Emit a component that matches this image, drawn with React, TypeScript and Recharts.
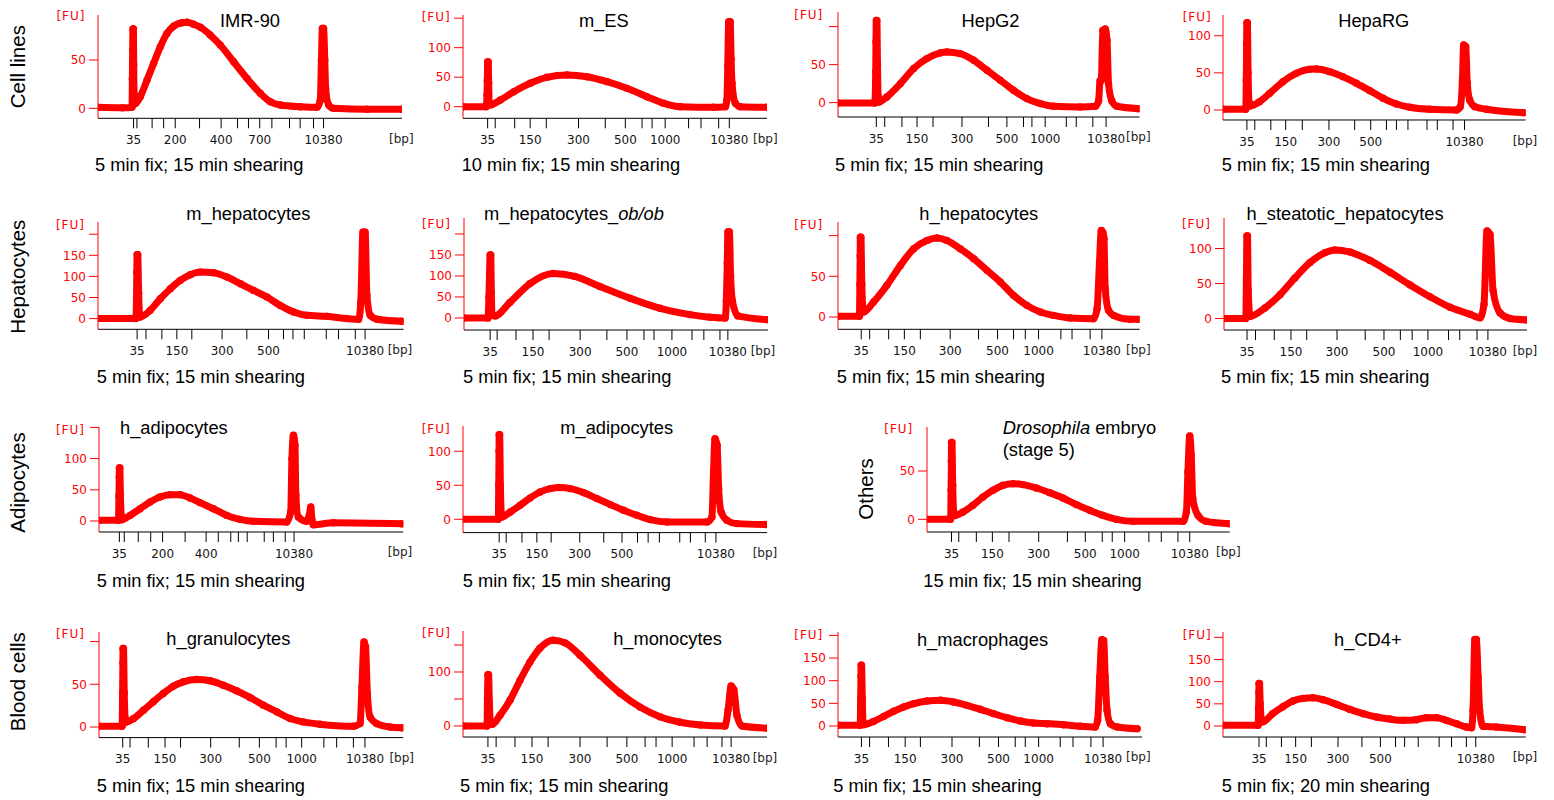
import React from 'react';
import { LineChart, Line, XAxis, YAxis } from 'recharts';

type Pt = [number, number];

// ---- traces: x = migration position (% of run window), y = fluorescence [FU]
const imr90Trace: Pt[] = [[0,1],[8,0.5],[11.2,1],[11.3,30],[11.4,60],[11.5,82],[11.65,82],[11.75,45],[11.85,15],[12.3,5],[13.9,12],[16.1,29],[18.3,46.5],[20.5,63.7],[22.7,77.5],[24.9,85],[27.6,88.5],[29.3,89],[31.4,87],[33.7,83.8],[36.9,75.8],[40.2,65.5],[44.6,48.2],[49.0,31],[53.4,15.5],[56.7,6.8],[60,3.4],[66.5,1.7],[72,1],[73.1,8],[73.5,50],[73.8,82.7],[74.2,82.7],[74.6,50],[74.9,20],[75.9,3.4],[77.5,0],[88.5,-1],[100,-1]];
const mEsTrace: Pt[] = [[0,0],[7.6,0],[7.9,20],[8.0,45],[8.1,76],[8.3,76],[8.45,40],[8.6,8],[9.0,3],[12.3,11.3],[16.7,25.4],[22.1,39.6],[27.6,49.8],[34.2,53.7],[40.8,50.8],[47.4,42.4],[53.9,31.1],[60.5,17],[66,5.7],[71.5,0],[82.4,-1],[86.3,0],[86.8,11],[87.1,70],[87.4,144],[87.9,144],[88.2,80],[88.5,39.6],[89.6,5.7],[91.2,0],[100,-1]];
const hepg2Trace: Pt[] = [[0,-0.4],[12.2,-0.5],[12.5,40],[12.6,80],[12.7,108],[12.9,108],[13.1,50],[13.3,8],[13.5,0.9],[16.2,7.5],[20.7,25],[25.1,44.8],[29.5,57.9],[33.9,65.4],[36.1,66.7],[40.5,64.5],[45.0,55.7],[49.4,42.5],[53.8,29.4],[58.2,16.2],[62.6,5.3],[67.1,-1.3],[71.5,-4.8],[80.3,-5.7],[85.3,-4.8],[86.4,2.2],[86.9,29],[87.3,29],[87.8,95],[88.6,97],[89.2,82],[89.7,25],[90.8,2.2],[92.5,-4.8],[99.6,-7.9]];
const hepaRgTrace: Pt[] = [[0,0.9],[7.5,0.9],[7.7,40],[7.8,90],[7.9,117.5],[8.05,117.5],[8.3,50],[8.6,10],[8.8,5.4],[12.1,11.2],[15.4,22.4],[19.8,38.1],[24.2,49.3],[28.6,54.7],[30.9,55.1],[35.2,51.6],[39.6,44.9],[44.1,35.9],[48.5,26],[52.9,15.7],[57.3,8.1],[61.7,3.6],[68.3,0.9],[77.1,0],[78.4,4.5],[79.1,40.4],[79.5,87.5],[80.2,85.2],[80.7,35.9],[81.5,13.5],[83.2,4.5],[87,0.9],[99.4,-3.6]];
const mHepTrace: Pt[] = [[0,0],[12.4,0],[12.6,50],[12.7,110],[12.8,151.7],[13.0,151.7],[13.3,60],[13.6,10],[13.8,3.9],[17.1,19.6],[20.4,47.2],[23.7,70.8],[26.9,90.5],[30.2,103.9],[33.5,110.2],[37.8,108.6],[42.2,98.4],[46.6,82.6],[50.9,66.8],[55.3,51],[59.6,31.3],[64,15.6],[68.4,7.7],[74.9,5.3],[81.5,0],[85.3,-1.6],[86.0,39.4],[86.7,205],[87.4,205],[88.0,55],[89.1,7.7],[91.3,-1.6],[99.4,-6.3]];
const mHepObTrace: Pt[] = [[0,0],[7.9,0],[8.2,50],[8.4,105],[8.6,150],[8.8,150],[9.0,60],[9.2,8],[10.2,5],[15.1,37],[21.7,82],[29.3,106],[36.5,99],[44.7,75],[54.6,47],[64.5,23],[74.3,8],[80.9,2],[85.9,0],[86.3,40],[86.6,130],[86.8,205],[87.3,205],[87.7,100],[88.3,40],[90.1,5],[100,-4]];
const hHepTrace: Pt[] = [[0,0.8],[7.1,0.8],[7.25,40],[7.35,75],[7.4,98],[7.6,98],[7.9,40],[8.2,12],[8.5,6.2],[11.8,18.4],[16.2,38.9],[20.7,63.4],[25.1,83.9],[29.5,94.1],[32.8,97],[36.1,94.1],[40.5,83.9],[45,71.6],[49.4,57.3],[53.8,43],[58.2,26.6],[62.6,14.3],[67.1,6.2],[71.5,2],[77,-1.2],[84.7,-2],[85.9,10.2],[86.7,67.5],[87.3,106.4],[87.8,104],[88.2,96.2],[88.6,34.8],[89.7,8.2],[91.4,2],[96.9,-2.9],[99.6,-2.9]];
const hSteatTrace: Pt[] = [[0,0],[7.2,0],[7.4,55],[7.55,118],[7.75,118],[8.0,40],[8.6,3],[13.5,15],[18.5,34],[23.4,58],[28.4,80],[33.3,94],[36.6,98],[41.6,95],[48.2,83],[54.8,66],[61.4,48],[68.0,31],[74.6,16],[81.2,6],[84.5,1],[85.8,20],[86.8,125],[87.8,120],[88.8,40],[91.1,8],[94.4,0],[100,-2]];
const hAdipoTrace: Pt[] = [[0,1.1],[6.4,1.1],[6.55,40],[6.65,70],[6.7,85],[6.85,85],[7.05,40],[7.3,8],[7.5,2.1],[10.2,9],[13.5,19.7],[16.8,30.4],[20,38.5],[23.3,42.2],[26.6,42.2],[29.9,36.9],[33.2,29.4],[37.6,19.7],[42,9],[46.3,2.7],[50.7,-0.5],[61.7,-1.6],[63,14.4],[63.4,99.9],[63.9,137.3],[64.4,121.3],[64.7,41.1],[65.5,6.4],[68.2,-0.5],[69.1,9],[69.6,22.4],[70,1.1],[70.4,-5.9],[77,-2.7],[99.5,-4.3]];
const mAdipoTrace: Pt[] = [[0,0],[11.6,0],[11.75,50],[11.85,100],[11.9,124.5],[12.05,124.5],[12.3,50],[12.6,8],[12.8,3.4],[15.6,10.8],[18.8,20.6],[22.1,31.4],[25.4,40.2],[28.7,45.1],[32,46.6],[35.3,45.1],[39.7,39.2],[44.1,30.4],[48.5,21.6],[52.8,13.2],[57.2,5.9],[61.6,-0.5],[67.1,-3.9],[80.3,-3.9],[81.9,3.4],[82.4,69.6],[82.9,118.6],[83.6,108.8],[84.1,45.1],[84.9,10.8],[86.8,-1.5],[90.1,-6.4],[99.4,-7.8]];
const drosTrace: Pt[] = [[0,0],[7.8,0],[7.95,30],[8.05,60],[8.1,79.4],[8.25,79.4],[8.5,35],[8.9,6],[9.2,4],[11.9,7.6],[15.2,14.5],[18.5,23.1],[21.8,30],[25.1,35.2],[28.4,36.9],[31.7,35.9],[36.1,32.4],[40.5,27.6],[44.9,22.1],[49.4,15.2],[53.8,9.3],[58.1,4.1],[62.6,0],[68.1,-2.1],[84.6,-2.1],[85.7,7.6],[86.2,49],[86.8,86.3],[87.3,66.3],[87.8,21.4],[89.5,4.1],[92.2,-2.1],[100,-4.5]];
const hGranTrace: Pt[] = [[0,0.8],[7.6,0.8],[7.75,40],[7.85,75],[7.9,91.8],[8.05,91.8],[8.3,40],[8.6,10],[8.9,5.9],[11.3,9.8],[14.6,19.6],[17.8,29.4],[21.1,39.2],[24.4,47.8],[27.7,52.9],[32.1,55.6],[36.5,54.1],[40.8,49],[45.2,42.4],[49.6,34.6],[54,25.6],[58.4,17.8],[62.8,9.9],[67.1,6],[72.6,3.3],[83.6,0.9],[85.8,4],[86.4,47],[87.1,99.6],[87.6,93.7],[88.2,39.1],[89.1,11.7],[91.3,3.9],[95.6,0],[99.5,-0.8]];
const hMonoTrace: Pt[] = [[0,0],[7.9,0],[8.05,50],[8.2,95],[8.4,95],[8.7,40],[9.0,5],[9.6,3],[12.2,20],[15.5,48],[18.8,85],[22.0,118],[25.3,144],[29.6,159],[33.6,154],[38.5,131],[45.1,94],[51.6,61],[58.2,35],[64.8,17],[71.4,7],[78.0,2],[86.2,0],[87.2,30],[88.2,74],[89.1,67],[90.1,20],[91.8,0],[100,-4]];
const hMacroTrace: Pt[] = [[0,1.5],[7.3,1.5],[7.45,60],[7.55,110],[7.6,134],[7.75,134],[8.0,60],[8.2,10],[8.4,3],[11.7,10],[15,21],[18.3,32.4],[21.6,41.9],[24.9,49.3],[29.3,55.2],[33.7,56.7],[38,53],[42.4,45.6],[46.8,36.8],[51.2,27.2],[55.6,18.3],[60,11],[64.3,6.6],[68.8,5.1],[74.2,2.9],[79.7,-0.7],[84.6,-2.2],[85.4,12.5],[86.1,108.2],[86.8,190.6],[87.4,189],[87.9,108],[88.5,34.4],[89.6,5.1],[91.8,-2.2],[98.4,-5.9]];
const hCd4Trace: Pt[] = [[0,1.5],[11.6,1.5],[11.75,40],[11.85,75],[11.9,95.7],[12.05,95.7],[12.3,50],[12.7,15],[13.2,9.4],[16.5,28.5],[19.8,43.5],[23.1,56.4],[26.4,62.3],[29.7,63.8],[33,59.3],[37.5,48.8],[41.9,37.5],[46.3,27.7],[50.7,20.2],[55.1,15.7],[59.5,12.7],[63.9,14.2],[67.2,18.7],[70.5,18.7],[73.8,12.7],[77.1,5.3],[80.4,-2.3],[82.1,-3.8],[82.6,35.3],[83.2,195],[83.7,195],[84.3,110.5],[84.8,35.3],[85.9,-0.8],[90.3,-2.3],[99.7,-8.3]];

// ---- size-ladder tick positions (% of run window) for each panel
const imr90Ticks = [11.7,12.8,17.8,21.6,25.4,33.4,40.5,45.9,49.5,53.2,57.2,63.0,66.5,70.9,74.2];
const mEsTicks = [8.1,10.6,17.0,22.1,27.4,38.0,46.8,53.4,58.9,62.2,66.5,74.2,78.3,84.1,87.6];
const hepg2Ticks = [12.7,15.5,21.2,26.2,31.5,41.1,49.9,56.0,61.5,64.3,68.7,75.7,79.0,84.5,88.9];
const hepaRgTicks = [7.9,10.5,15.8,20.7,26.2,35.0,43.5,48.8,54.0,57.3,61.1,67.4,70.8,76.0,79.8];
const mHepTicks = [12.8,15.7,20.9,25.8,30.7,40.6,48.7,55.8,60.7,63.8,67.5,74.7,78.7,84.2,87.4];
const mHepObTicks = [8.6,10.9,17.1,22.7,28.0,38.2,47.0,53.6,59.2,62.5,68.4,75.0,78.9,84.2,86.8];
const hHepTicks = [7.7,10.5,16.8,22.0,27.3,37.2,46.6,52.9,58.2,62.1,66.5,73.9,77.6,83.6,87.5];
const hSteatTicks = [7.6,10.4,16.6,22.1,27.3,37.3,46.6,52.8,58.2,62.1,67.3,74.1,77.8,83.5,87.1];
const hAdipoTicks = [6.7,8.3,12.9,17.0,20.9,28.3,35.2,39.2,43.3,45.8,48.7,54.3,57.3,61.2,64.1];
const mAdipoTicks = [11.9,14.2,19.4,24.3,29.0,38.4,46.3,52.3,57.4,60.9,64.6,71.3,74.8,79.7,83.2];
const drosTicks = [8.1,10.5,16.3,21.6,27.1,36.9,46.4,52.3,57.9,61.2,65.3,73.3,77.4,82.9,86.8];
const hGranTicks = [7.8,10.2,16.2,21.7,26.8,36.7,46.1,52.7,58.2,61.5,66.6,73.9,78.1,83.6,87.4];
const hMonoTicks = [8.2,10.9,17.1,22.7,28.0,38.5,47.4,53.9,59.9,63.5,68.8,76.0,80.3,85.2,88.2];
const hMacroTicks = [7.7,10.4,16.6,22.1,27.1,37.5,46.5,52.8,58.3,61.6,66.0,73.1,77.3,83.2,87.2];
const hCd4Ticks = [11.9,14.3,19.3,24.0,29.2,38.0,45.9,52.0,57.0,60.0,64.5,71.4,75.5,80.4,83.5];

// ---- tick labels of the bp ladder
const ladderWith1000 = ['35','','','150','','300','','500','','','1000','','','','10380'];
const ladderNo1000 = ['35','','','150','','300','','500','','','','','','','10380'];
const ladder200 = ['35','','','','200','','400','','','700','','','','','10380'];
const ladder200short = ['35','','','','200','','400','','','','','','','','10380'];

const rowLabels = ['Cell lines', 'Hepatocytes', 'Adipocytes', 'Blood cells'];

type Panel = {
  title: React.ReactNode; titleX: number; titleY: number; titleAnchor?: 'start' | 'middle';
  caption: string; capX: number; capY: number;
  l: number; t: number; b: number; r: number;
  yDomain: [number, number]; yTicks: number[]; yLabels: string[];
  xTicks: number[]; xLabels: string[]; trace: Pt[];
  fuX: number; fuY: number; bpX: number;
};

const std = '5 min fix; 15 min shearing';

const panels: Panel[] = [
  { title: 'IMR-90', titleX: 250, titleY: 26.5, caption: std, capX: 95, capY: 171,
    l: 97.7, t: 15, b: 118.3, r: 401.7, yDomain: [-10.3, 96.5], yTicks: [0, 50], yLabels: ['0', '50'],
    xTicks: imr90Ticks, xLabels: ladder200, trace: imr90Trace, fuX: 85.5, fuY: 20, bpX: 401.3 },
  { title: 'm_ES', titleX: 603.8, titleY: 26.5, caption: '10 min fix; 15 min shearing', capX: 461.7, capY: 171,
    l: 462.7, t: 15, b: 118.3, r: 766.7, yDomain: [-19.7, 155.4], yTicks: [0, 50, 100, 150], yLabels: ['0', '50', '100', ''],
    xTicks: mEsTicks, xLabels: ladderWith1000, trace: mEsTrace, fuX: 450.7, fuY: 20.5, bpX: 765.3 },
  { title: 'HepG2', titleX: 990.5, titleY: 26.5, caption: std, capX: 835, capY: 171,
    l: 837.7, t: 11.7, b: 116.7, r: 1139.3, yDomain: [-18.9, 119.2], yTicks: [0, 50, 100], yLabels: ['0', '50', ''],
    xTicks: hepg2Ticks, xLabels: ladderWith1000, trace: hepg2Trace, fuX: 823.3, fuY: 18.5, bpX: 1138.3 },
  { title: 'HepaRG', titleX: 1373.8, titleY: 26.5, caption: std, capX: 1221.7, capY: 171,
    l: 1223.3, t: 15, b: 120, r: 1526, yDomain: [-13.5, 127.9], yTicks: [0, 50, 100], yLabels: ['0', '50', '100'],
    xTicks: hepaRgTicks, xLabels: ladderNo1000, trace: hepaRgTrace, fuX: 1211.7, fuY: 21, bpX: 1525 },

  { title: 'm_hepatocytes', titleX: 248.3, titleY: 220, caption: std, capX: 96.7, capY: 382.5,
    l: 97.7, t: 221.7, b: 329, r: 403.3, yDomain: [-25.4, 229], yTicks: [0, 50, 100, 150, 200], yLabels: ['0', '50', '100', '150', ''],
    xTicks: mHepTicks, xLabels: ladderNo1000, trace: mHepTrace, fuX: 85, fuY: 228.7, bpX: 400 },
  { title: <>m_hepatocytes_<tspan fontStyle="italic">ob/ob</tspan></>, titleX: 574, titleY: 220, caption: std, capX: 463, capY: 382.5,
    l: 464, t: 218, b: 330, r: 768, yDomain: [-28.6, 238], yTicks: [0, 50, 100, 150, 200], yLabels: ['0', '50', '100', '150', ''],
    xTicks: mHepObTicks, xLabels: ladderWith1000, trace: mHepObTrace, fuX: 451, fuY: 227.5, bpX: 763 },
  { title: 'h_hepatocytes', titleX: 978.8, titleY: 220, caption: std, capX: 836.7, capY: 382.5,
    l: 837.7, t: 221.7, b: 329, r: 1139.3, yDomain: [-15.1, 116.7], yTicks: [0, 50, 100], yLabels: ['0', '50', ''],
    xTicks: hHepTicks, xLabels: ladderWith1000, trace: hHepTrace, fuX: 823.3, fuY: 229, bpX: 1138.3 },
  { title: 'h_steatotic_hepatocytes', titleX: 1345, titleY: 220, caption: std, capX: 1221, capY: 382.5,
    l: 1224, t: 218, b: 330, r: 1527, yDomain: [-16.4, 143.6], yTicks: [0, 50, 100], yLabels: ['0', '50', '100'],
    xTicks: hSteatTicks, xLabels: ladderWith1000, trace: hSteatTrace, fuX: 1211, fuY: 227.5, bpX: 1525 },

  { title: 'h_adipocytes', titleX: 120, titleY: 434, titleAnchor: 'start', caption: std, capX: 96.7, capY: 586.5,
    l: 99, t: 426.7, b: 531.7, r: 403.3, yDomain: [-17.6, 150.6], yTicks: [0, 50, 100, 150], yLabels: ['0', '50', '100', ''],
    xTicks: hAdipoTicks, xLabels: ladder200short, trace: hAdipoTrace, fuX: 85, fuY: 433.5, bpX: 400 },
  { title: 'm_adipocytes', titleX: 616.7, titleY: 434, caption: std, capX: 462.7, capY: 586.5,
    l: 462.7, t: 425.7, b: 532.3, r: 766.7, yDomain: [-19.6, 137.2], yTicks: [0, 50, 100], yLabels: ['0', '50', '100'],
    xTicks: mAdipoTicks, xLabels: ladderNo1000, trace: mAdipoTrace, fuX: 450.7, fuY: 433, bpX: 765 },
  { title: <><tspan fontStyle="italic">Drosophila</tspan> embryo</>, titleX: 1002.7, titleY: 434, titleAnchor: 'start',
    caption: '15 min fix; 15 min shearing', capX: 923.3, capY: 586.5,
    l: 927.3, t: 426.7, b: 531.7, r: 1230, yDomain: [-13.1, 95.5], yTicks: [0, 50], yLabels: ['0', '50'],
    xTicks: drosTicks, xLabels: ladderWith1000, trace: drosTrace, fuX: 913.3, fuY: 433, bpX: 1228.3 },

  { title: 'h_granulocytes', titleX: 228.3, titleY: 645, caption: std, capX: 96.7, capY: 791.5,
    l: 99, t: 631.7, b: 737.3, r: 403.3, yDomain: [-12.4, 111.2], yTicks: [0, 50, 100], yLabels: ['0', '50', ''],
    xTicks: hGranTicks, xLabels: ladderWith1000, trace: hGranTrace, fuX: 85, fuY: 638, bpX: 401.7 },
  { title: 'h_monocytes', titleX: 667.5, titleY: 645, caption: std, capX: 460, capY: 791.5,
    l: 463, t: 631, b: 737, r: 767, yDomain: [-20.4, 175.9], yTicks: [0, 50, 100, 150], yLabels: ['0', '', '100', ''],
    xTicks: hMonoTicks, xLabels: ladderWith1000, trace: hMonoTrace, fuX: 451, fuY: 636.5, bpX: 765 },
  { title: 'h_macrophages', titleX: 982.5, titleY: 646, caption: std, capX: 833.3, capY: 791.5,
    l: 837.7, t: 631.7, b: 736.7, r: 1141.7, yDomain: [-24.3, 207.5], yTicks: [0, 50, 100, 150, 200], yLabels: ['0', '50', '100', '150', ''],
    xTicks: hMacroTicks, xLabels: ladderWith1000, trace: hMacroTrace, fuX: 823.3, fuY: 638.5, bpX: 1138.3 },
  { title: 'h_CD4+', titleX: 1367.8, titleY: 646, caption: '5 min fix; 20 min shearing', capX: 1221.7, capY: 791.5,
    l: 1223.3, t: 631.7, b: 736.7, r: 1526, yDomain: [-24.8, 212], yTicks: [0, 50, 100, 150, 200], yLabels: ['0', '50', '100', '150', ''],
    xTicks: hCd4Ticks, xLabels: ladderNo1000, trace: hCd4Trace, fuX: 1211.7, fuY: 638.5, bpX: 1525 },
];

const SANS = '"Liberation Sans", Arial, sans-serif';
const TICKFONT = '"DejaVu Sans", Verdana, sans-serif';
const RED = '#ff0000';

const ML = 60, MT = 10, MR = 12, XH = 40;

function TraceChart({ p }: { p: Panel }) {
  const W = p.r - p.l;
  const H = p.b - p.t;
  const data = p.trace.map(([x, y]) => ({ x, y }));
  return (
    <div style={{ position: 'absolute', left: p.l - ML, top: p.t - MT }}>
      <LineChart width={ML + W + MR} height={MT + H + XH} data={data}
        margin={{ top: MT, right: MR, bottom: 0, left: 0 }}>
        <XAxis type="number" dataKey="x" domain={[0, 100]} ticks={p.xTicks} interval={0}
          allowDataOverflow height={XH} stroke="#000" tickSize={10} tickMargin={7}
          tickFormatter={(v: number) => p.xLabels[p.xTicks.indexOf(v)] ?? ''}
          tick={{ fontSize: 12, fill: '#111', fontFamily: TICKFONT }} />
        <YAxis type="number" domain={p.yDomain} ticks={p.yTicks} interval={0} allowDataOverflow
          width={ML} stroke={RED} tickSize={9} tickMargin={3}
          tickFormatter={(v: number) => p.yLabels[p.yTicks.indexOf(v)] ?? ''}
          tick={{ fontSize: 12, fill: RED, fontFamily: TICKFONT }} />
        <Line type="monotone" dataKey="y" stroke={RED} strokeWidth={7} strokeLinejoin="round"
          strokeLinecap="round" dot={{ r: 3.7, fill: RED, stroke: 'none' }} isAnimationActive={false} />
      </LineChart>
    </div>
  );
}

export default function App() {
  const rowLabelPos: [number, number][] = [[25, 66.7], [25, 276.7], [25, 482.5], [25, 681.7]];
  return (
    <div style={{ position: 'absolute', left: 0, top: 0, width: 1554, height: 800, background: '#fff', overflow: 'hidden' }}>
      {panels.map((p, i) => <TraceChart key={i} p={p} />)}
      <svg width={1554} height={800} style={{ position: 'absolute', left: 0, top: 0, pointerEvents: 'none' }}>
        {rowLabels.map((s, i) => (
          <text key={s} x={rowLabelPos[i][0]} y={rowLabelPos[i][1]} textAnchor="middle" fontFamily={SANS}
            fontSize={20.5} fill="#000" transform={`rotate(-90 ${rowLabelPos[i][0]} ${rowLabelPos[i][1]})`}>{s}</text>
        ))}
        <text x={873} y={489} textAnchor="middle" fontFamily={SANS} fontSize={20.5} fill="#000"
          transform="rotate(-90 873 489)">Others</text>
        {panels.map((p, i) => (
          <g key={i}>
            <text x={p.titleX} y={p.titleY} textAnchor={p.titleAnchor ?? 'middle'} fontFamily={SANS} fontSize={18.3} fill="#000">{p.title}</text>
            <text x={p.capX} y={p.capY} fontFamily={SANS} fontSize={18.3} fill="#000">{p.caption}</text>
            <text x={p.fuX} y={p.fuY} textAnchor="end" fontFamily={TICKFONT} fontSize={12} letterSpacing={1} fill={RED}>[FU]</text>
            <text x={p.bpX} y={p.b + 24.5} textAnchor="middle" fontFamily={TICKFONT} fontSize={12} fill="#222">[bp]</text>
          </g>
        ))}
        <text x={1002.7} y={455.5} fontFamily={SANS} fontSize={18.3} fill="#000">(stage 5)</text>
      </svg>
    </div>
  );
}
